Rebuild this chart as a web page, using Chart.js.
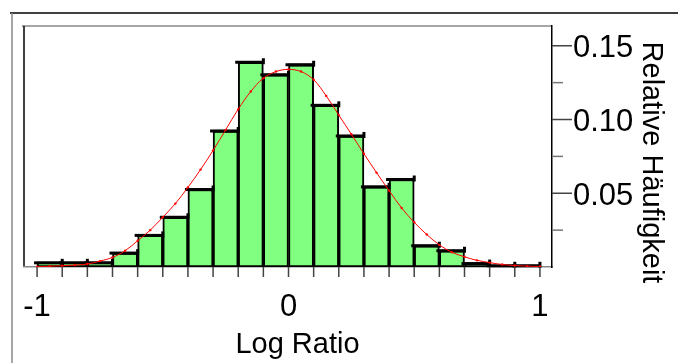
<!DOCTYPE html>
<html>
<head>
<meta charset="utf-8">
<script src="https://cdn.jsdelivr.net/npm/chart.js@4.4.0/dist/chart.umd.min.js"></script>
<style>
  html, body { margin: 0; padding: 0; background: #fff; }
  #wrap { width: 678px; height: 363px; }
</style>
</head>
<body>
<div id="wrap"><canvas id="chHist"></canvas></div>
<script>
// Histogramm: Bin-Mitten und relative Häufigkeiten
const binCenters = [-0.95, -0.85, -0.75, -0.65, -0.55, -0.45, -0.35, -0.25, -0.15, -0.05,
                     0.05,  0.15,  0.25,  0.35,  0.45,  0.55,  0.65,  0.75,  0.85,  0.95];
const relFreq = [0.0035, 0.0035, 0.0035, 0.0101, 0.0221, 0.0344, 0.0532, 0.0929, 0.1395, 0.1310,
                 0.1378, 0.1103, 0.0895, 0.0550, 0.0600, 0.0151, 0.0117, 0.0030, 0.0015, 0.0015];

// angepasste Kurve (rote Linie)
const fitX = [-1, -0.95, -0.9, -0.85, -0.8, -0.75, -0.7, -0.65, -0.6, -0.55, -0.5, -0.45, -0.4,
              -0.35, -0.3, -0.25, -0.2, -0.15, -0.1, -0.05, 0, 0.05, 0.1, 0.15, 0.2, 0.25, 0.3,
              0.35, 0.4, 0.45, 0.5, 0.55, 0.6, 0.65, 0.7, 0.75, 0.8, 0.85, 0.9, 0.95, 1];
const fitY = [0.0002, 0.0005, 0.0009, 0.0013, 0.0020, 0.0040, 0.0065, 0.0110, 0.0178, 0.0250,
              0.0337, 0.0430, 0.0540, 0.0660, 0.0790, 0.0930, 0.1070, 0.1190, 0.1280, 0.1325,
              0.1340, 0.1325, 0.1270, 0.1160, 0.1030, 0.0900, 0.0768, 0.0640, 0.0518, 0.0400,
              0.0303, 0.0220, 0.0150, 0.0100, 0.0069, 0.0045, 0.0030, 0.0017, 0.0010, 0.0006, 0.0003];

const xTickLabels = [-1, 0, 1];
const xTickMarks = [-1, -0.9, -0.8, -0.7, -0.6, -0.5, -0.4, -0.3, -0.2, -0.1, 0,
                    0.1, 0.2, 0.3, 0.4, 0.5, 0.6, 0.7, 0.8, 0.9, 1];
const yTickLabels = [0.05, 0.10, 0.15];
const yMinorTicks = [0.025, 0.075, 0.125];

Chart.defaults.font.family = "'Liberation Sans', Arial, sans-serif";
Chart.defaults.color = '#000';

const decor = {
  id: 'decor',
  beforeDraw(chart) {
    const { ctx, chartArea: a } = chart;
    ctx.save();
    ctx.lineWidth = 1.5;
    ctx.strokeStyle = '#000';
    ctx.beginPath(); ctx.moveTo(10, 13); ctx.lineTo(678, 13); ctx.stroke();
    ctx.strokeStyle = '#888';
    ctx.beginPath(); ctx.moveTo(12, 13); ctx.lineTo(12, 363); ctx.stroke();
    ctx.beginPath(); ctx.moveTo(a.left - 2, a.top); ctx.lineTo(a.right, a.top); ctx.stroke();
    ctx.strokeStyle = '#000';
    ctx.beginPath(); ctx.moveTo(a.left, a.top); ctx.lineTo(a.left, a.bottom); ctx.stroke();
    ctx.restore();
  },
  afterDatasetDraw(chart, args) {
    if (args.meta.type !== 'bar') return;
    const ctx = chart.ctx;
    ctx.save();
    ctx.strokeStyle = '#000';
    ctx.lineWidth = 3;
    args.meta.data.forEach(b => {
      const l = b.x - b.width / 2, r = b.x + b.width / 2;
      ctx.beginPath(); ctx.moveTo(l - 3, b.y + 1); ctx.lineTo(r, b.y + 1); ctx.stroke();
      ctx.beginPath(); ctx.moveTo(r, b.y - 3); ctx.lineTo(r, b.y + 3); ctx.stroke();
    });
    ctx.restore();
  },
  afterDraw(chart) {
    const { ctx, chartArea: a, scales: { x, y } } = chart;
    ctx.save();
    ctx.lineWidth = 1.5;
    ctx.strokeStyle = '#444';
    xTickMarks.forEach(v => {
      const px = x.getPixelForValue(v);
      ctx.beginPath(); ctx.moveTo(px, a.bottom); ctx.lineTo(px, a.bottom + 10); ctx.stroke();
    });
    yTickLabels.forEach(v => {
      const py = y.getPixelForValue(v);
      ctx.beginPath(); ctx.moveTo(a.right, py); ctx.lineTo(a.right + 20, py); ctx.stroke();
    });
    ctx.strokeStyle = '#777';
    yMinorTicks.forEach(v => {
      const py = y.getPixelForValue(v);
      ctx.beginPath(); ctx.moveTo(a.right, py); ctx.lineTo(a.right + 11, py); ctx.stroke();
    });
    // Achsentitel
    ctx.fillStyle = '#000';
    ctx.font = "29px 'Liberation Sans', Arial, sans-serif";
    ctx.textAlign = 'center';
    ctx.textBaseline = 'alphabetic';
    ctx.fillText('Log Ratio', 297.5, 352.5);
    ctx.translate(643, 162.5);
    ctx.rotate(Math.PI / 2);
    ctx.fillText('Relative Häufigkeit', 0, 0);
    ctx.restore();
  }
};

new Chart(document.getElementById('chHist'), {
  type: 'bar',
  data: {
    datasets: [
      {
        type: 'line', label: 'Fit', order: 0,
        data: fitX.map((v, i) => ({ x: v, y: fitY[i] })),
        borderColor: '#ff0000', borderWidth: 1, tension: 0.35,
        pointRadius: 1.2, pointBackgroundColor: '#ff0000', pointBorderWidth: 0
      },
      {
        type: 'bar', label: 'Relative Häufigkeit', order: 1,
        data: binCenters.map((v, i) => ({ x: v, y: relFreq[i] })),
        backgroundColor: '#80ff80', borderColor: '#000',
        borderWidth: { left: 2, right: 2, top: 3, bottom: 2 }, borderSkipped: false,
        barPercentage: 1, categoryPercentage: 1
      }
    ]
  },
  options: {
    responsive: true, maintainAspectRatio: false, animation: false,
    layout: { padding: { left: 24, top: 26, right: 0, bottom: 0 } },
    plugins: { legend: { display: false }, tooltip: { enabled: false } },
    scales: {
      x: {
        type: 'linear', min: -1.052, max: 1.048, offset: false,
        grid: { display: false, offset: false },
        border: { display: true, color: '#888', width: 1.5 },
        afterBuildTicks: s => { s.ticks = xTickLabels.map(v => ({ value: v })); },
        afterFit: s => { s.height = 96; s.paddingLeft = 0; s.paddingRight = 0; },
        ticks: { font: { size: 31 }, padding: 14, maxRotation: 0, autoSkip: false, callback: v => String(v) }
      },
      y: {
        type: 'linear', position: 'right', min: 0, max: 0.1634,
        grid: { display: false },
        border: { display: true, color: '#000', width: 1.5 },
        afterBuildTicks: s => { s.ticks = yTickLabels.map(v => ({ value: v })); },
        afterFit: s => { s.width = 126; s.paddingTop = 0; s.paddingBottom = 0; },
        ticks: { font: { size: 31 }, padding: 13, labelOffset: 3, callback: v => v.toFixed(2) }
      }
    }
  },
  plugins: [decor]
});
</script>
</body>
</html>
